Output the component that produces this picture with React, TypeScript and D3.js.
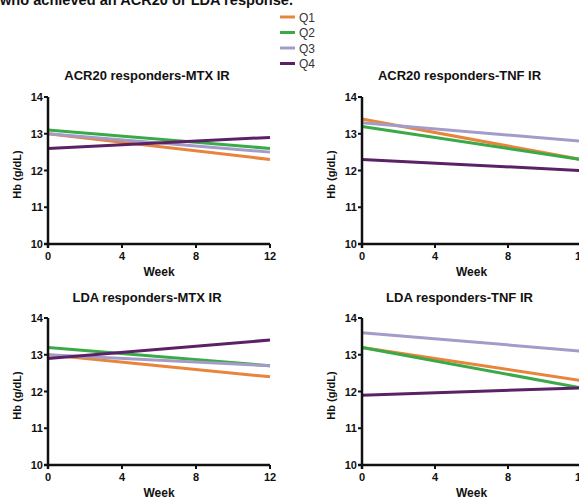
import React from "react";
import * as d3 from "d3";

const weeks = [0, 12];
const seriesNames = ["Q1", "Q2", "Q3", "Q4"];
const seriesColors = ["#E8843C", "#3AAA48", "#A49CC8", "#5B2167"];
const yTicks = [10, 11, 12, 13, 14];
const xTicks = [0, 4, 8, 12];

const acrMtx = [
  [13.0, 12.3],
  [13.1, 12.6],
  [13.0, 12.5],
  [12.6, 12.9],
];
const acrTnf = [
  [13.4, 12.3],
  [13.2, 12.3],
  [13.3, 12.8],
  [12.3, 12.0],
];
const ldaMtx = [
  [13.0, 12.4],
  [13.2, 12.7],
  [13.0, 12.7],
  [12.9, 13.4],
];
const ldaTnf = [
  [13.2, 12.3],
  [13.2, 12.1],
  [13.6, 13.1],
  [11.9, 12.1],
];

const panelTitles = [
  "ACR20 responders-MTX IR",
  "ACR20 responders-TNF IR",
  "LDA responders-MTX IR",
  "LDA responders-TNF IR",
];
const panelData = [acrMtx, acrTnf, ldaMtx, ldaTnf];

const layouts = [
  { x0: 48, x1: 270, y0: 244, y1: 97, titleY: 80 },
  { x0: 362, x1: 581, y0: 244, y1: 97, titleY: 80 },
  { x0: 48, x1: 270, y0: 465, y1: 318, titleY: 302 },
  { x0: 362, x1: 581, y0: 465, y1: 318, titleY: 302 },
];

const FONT = "'Liberation Sans', Arial, sans-serif";

function Panel({ idx }: { idx: number }) {
  const L = layouts[idx];
  const data = panelData[idx];
  const x = d3.scaleLinear().domain([0, 12]).range([L.x0, L.x1]);
  const y = d3.scaleLinear().domain([10, 14]).range([L.y0, L.y1]);
  const line = d3
    .line<[number, number]>()
    .x((d) => x(d[0]))
    .y((d) => y(d[1]));
  const cx = (L.x0 + L.x1) / 2;
  const cy = (L.y0 + L.y1) / 2;
  return (
    <g>
      <text
        x={cx - 12}
        y={L.titleY}
        textAnchor="middle"
        fontFamily={FONT}
        fontWeight="bold"
        fontSize={13}
        fill="#111"
      >
        {panelTitles[idx]}
      </text>
      {data.map((vals, i) => (
        <path
          key={i}
          d={line(weeks.map((w, j) => [w, vals[j]]) as [number, number][]) || ""}
          stroke={seriesColors[i]}
          strokeWidth={3}
          fill="none"
        />
      ))}
      {/* y axis */}
      <line x1={x(0)} x2={x(0)} y1={y(14)} y2={y(10) + 4} stroke="#111" strokeWidth={2.5} />
      {yTicks.map((t) => (
        <g key={t}>
          <line x1={x(0) - 4} x2={x(0)} y1={y(t)} y2={y(t)} stroke="#111" strokeWidth={2} />
          <text
            x={x(0) - 5}
            y={y(t) + 4}
            textAnchor="end"
            fontFamily={FONT}
            fontWeight="bold"
            fontSize={11}
            fill="#111"
          >
            {t}
          </text>
        </g>
      ))}
      {/* x axis */}
      <line x1={x(0) - 4} x2={x(12)} y1={y(10)} y2={y(10)} stroke="#111" strokeWidth={2.5} />
      {xTicks.map((t) => (
        <g key={t}>
          <line x1={x(t)} x2={x(t)} y1={y(10)} y2={y(10) + 4} stroke="#111" strokeWidth={2} />
          <text
            x={x(t)}
            y={y(10) + 16}
            textAnchor="middle"
            fontFamily={FONT}
            fontWeight="bold"
            fontSize={11}
            fill="#111"
          >
            {t}
          </text>
        </g>
      ))}
      <text
        x={cx}
        y={y(10) + 32}
        textAnchor="middle"
        fontFamily={FONT}
        fontWeight="bold"
        fontSize={12}
        fill="#111"
      >
        Week
      </text>
      <text
        transform={`translate(${x(0) - 27},${cy + 4}) rotate(-90)`}
        textAnchor="middle"
        fontFamily={FONT}
        fontWeight="bold"
        fontSize={11}
        fill="#111"
      >
        Hb (g/dL)
      </text>
    </g>
  );
}

export default function App() {
  return (
    <svg
      width={579}
      height={499}
      style={{ position: "absolute", left: 0, top: 0, background: "#fff" }}
    >
      <rect width={579} height={499} fill="#fff" />
      <text
        x={0}
        y={5}
        fontFamily={FONT}
        fontWeight="bold"
        fontSize={14}
        fill="#111"
        textLength={293}
        lengthAdjust="spacingAndGlyphs"
      >
        who achieved an ACR20 or LDA response.
      </text>
      {seriesNames.map((n, i) => (
        <g key={n} transform={`translate(280,${17 + i * 15.5})`}>
          <line x1={0} x2={15} y1={0} y2={0} stroke={seriesColors[i]} strokeWidth={3} />
          <text x={19} y={4.5} fontFamily={FONT} fontSize={12} fill="#333">
            {n}
          </text>
        </g>
      ))}
      {[0, 1, 2, 3].map((i) => (
        <Panel key={i} idx={i} />
      ))}
    </svg>
  );
}
